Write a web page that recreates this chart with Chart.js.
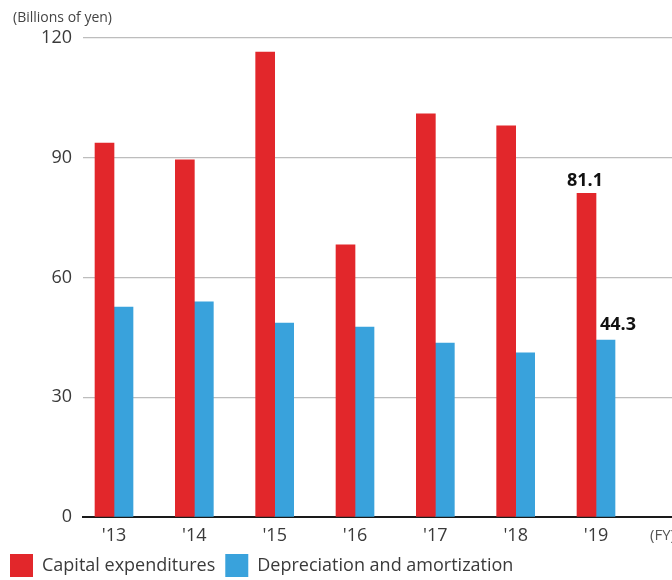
<!DOCTYPE html>
<html>
<head>
<meta charset="utf-8">
<script src="https://cdn.jsdelivr.net/npm/chart.js@4/dist/chart.umd.min.js"></script>
<style>
  html, body { margin: 0; padding: 0; background: #fff; overflow: hidden; }
</style>
</head>
<body>
<canvas id="c" width="672" height="580"></canvas>
<script>
// Fiscal years and values (billions of yen)
const years = ["'13", "'14", "'15", "'16", "'17", "'18", "'19"];
const capex = [93.7, 89.5, 116.5, 68.2, 101.0, 98.0, 81.1];
const depreciation = [52.6, 53.9, 48.6, 47.6, 43.6, 41.1, 44.3];
const yTicks = [0, 30, 60, 90, 120];
const seriesNames = ['Capital expenditures', 'Depreciation and amortization'];
const unitLabel = '(Billions of yen)';
const periodLabel = '(FY)';

const FONT = '"Open Sans", "Noto Sans", sans-serif';
const TEXT = '#3a3a3a';

const toPoints = arr => arr.map((v, i) => ({ x: i, y: v }));

// Caption, period marker and the values of the latest year
const labelOffsets = [{ dx: -1.5, dy: 7 }, { dx: 12.5, dy: 10 }];
const annotate = {
  id: 'annotate',
  afterDraw(chart) {
    const ctx = chart.ctx;
    ctx.save();
    ctx.textBaseline = 'alphabetic';
    ctx.textAlign = 'left';
    ctx.fillStyle = '#444';
    ctx.font = '14px ' + FONT;
    ctx.fillText(unitLabel, 13, 21.5);
    ctx.fillStyle = '#555';
    ctx.font = '15px ' + FONT;
    ctx.fillText(periodLabel, 650, 539.5);

    ctx.font = 'bold 18px ' + FONT;
    ctx.fillStyle = '#111';
    ctx.textAlign = 'center';
    chart.data.datasets.forEach((ds, di) => {
      const meta = chart.getDatasetMeta(di);
      const el = meta.data[meta.data.length - 1];
      const v = ds.data[ds.data.length - 1].y;
      const o = labelOffsets[di];
      ctx.fillText(v.toFixed(1), el.x + o.dx, el.y - o.dy);
    });
    ctx.restore();
  }
};

new Chart(document.getElementById('c'), {
  type: 'bar',
  data: {
    datasets: [
      { label: seriesNames[0], data: toPoints(capex), backgroundColor: '#e2272b', borderWidth: 0 },
      { label: seriesNames[1], data: toPoints(depreciation), backgroundColor: '#39a2dc', borderWidth: 0 }
    ]
  },
  options: {
    responsive: false,
    animation: false,
    devicePixelRatio: 1,
    barThickness: 19,
    layout: { padding: { top: 38, left: 0, right: 0, bottom: -7 } },
    scales: {
      x: {
        type: 'linear',
        offset: false,
        min: -0.386,
        max: 6.946,
        afterBuildTicks: s => { s.ticks = years.map((_, i) => ({ value: i })); },
        afterFit: s => { s.height = 27; },
        grid: { display: false, drawTicks: false, offset: false },
        border: { display: true, color: '#1a1a1a', width: 2 },
        ticks: {
          autoSkip: false,
          maxRotation: 0,
          padding: 8,
          color: TEXT,
          font: { family: FONT, size: 18 },
          callback: (v, i) => years[i]
        }
      },
      y: {
        min: 0,
        max: 120,
        afterBuildTicks: s => { s.ticks = yTicks.map(v => ({ value: v })); },
        afterFit: s => { s.width = 83; },
        grid: {
          drawTicks: false,
          color: c => (c.tick && c.tick.value === 0) ? 'rgba(0,0,0,0)' : '#bdbdbd',
          lineWidth: 1.2
        },
        border: { display: false },
        ticks: {
          padding: 11,
          color: TEXT,
          font: { family: FONT, size: 18 }
        }
      }
    },
    plugins: {
      legend: {
        position: 'bottom',
        align: 'start',
        labels: {
          boxWidth: 23,
          boxHeight: 23,
          padding: 10,
          color: TEXT,
          font: { family: FONT, size: 18 }
        }
      },
      tooltip: { enabled: false }
    }
  },
  plugins: [annotate]
});
</script>
</body>
</html>
